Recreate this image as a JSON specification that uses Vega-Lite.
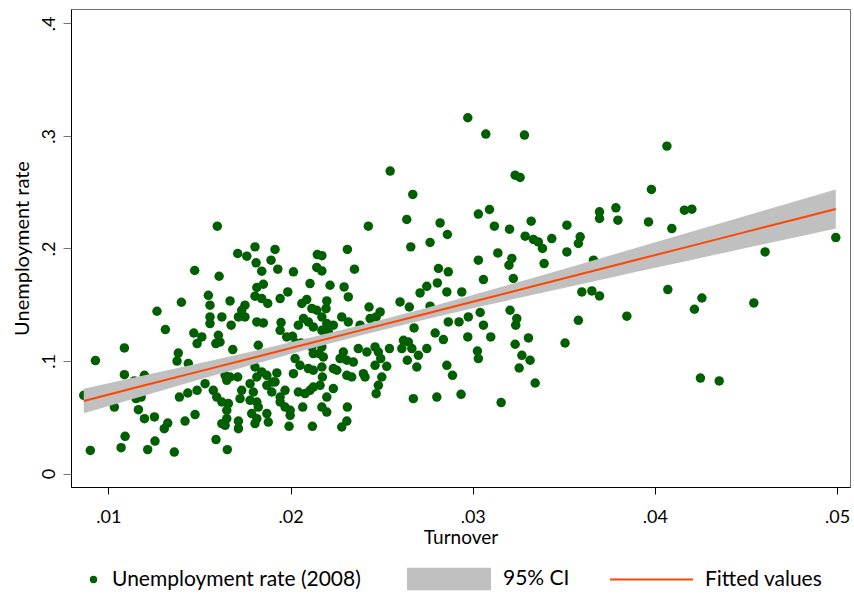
{
  "$schema": "https://vega.github.io/schema/vega-lite/v6.json",
  "width": 779,
  "height": 478,
  "autosize": "none",
  "padding": {"left": 71, "top": 9, "right": 4, "bottom": 110},
  "background": "white",
  "config": {
    "font": "Lato",
    "view": {"stroke": "#707070", "strokeWidth": 1},
    "axis": {"grid": false},
    "legend": {"labelFont": "Lato", "labelFontSize": 21, "labelColor": "#000", "labelLimit": 400, "padding": 0, "title": null}
  },
  "datasets": {
    "pts": [
      {"x":0.00865,"y":0.0695},{"x":0.00901,"y":0.0206},{"x":0.00929,"y":0.1004},{"x":0.01033,"y":0.0591},{"x":0.0107,"y":0.023},{"x":0.01088,"y":0.1116},{"x":0.01088,"y":0.0879},{"x":0.01092,"y":0.0331},{"x":0.01143,"y":0.0823},{"x":0.01152,"y":0.0666},{"x":0.0118,"y":0.068},{"x":0.01165,"y":0.0568},{"x":0.01198,"y":0.0873},{"x":0.01198,"y":0.0488},{"x":0.01216,"y":0.0213},{"x":0.01253,"y":0.0503},{"x":0.01256,"y":0.0289},{"x":0.01267,"y":0.1442},{"x":0.01307,"y":0.0399},{"x":0.01313,"y":0.1279},{"x":0.01326,"y":0.0449},{"x":0.01362,"y":0.0191},{"x":0.01377,"y":0.1},{"x":0.01384,"y":0.1071},{"x":0.0139,"y":0.068},{"x":0.01401,"y":0.1522},{"x":0.01421,"y":0.0467},{"x":0.01436,"y":0.0716},{"x":0.01439,"y":0.0977},{"x":0.01469,"y":0.1249},{"x":0.01474,"y":0.1804},{"x":0.01476,"y":0.0524},{"x":0.01487,"y":0.1155},{"x":0.01487,"y":0.074},
      {"x":0.01598,"y":0.2198},{"x":0.01805,"y":0.2014},{"x":0.0171,"y":0.1955},{"x":0.0176,"y":0.1931},{"x":0.01915,"y":0.1991},{"x":0.01893,"y":0.1896},{"x":0.01811,"y":0.1872},{"x":0.01842,"y":0.1798},{"x":0.0193,"y":0.1816},{"x":0.02016,"y":0.1792},{"x":0.01608,"y":0.1753},{"x":0.02147,"y":0.1946},{"x":0.02172,"y":0.1936},{"x":0.02144,"y":0.1831},{"x":0.02172,"y":0.18},{"x":0.02107,"y":0.1688},{"x":0.01549,"y":0.1584},{"x":0.01558,"y":0.1496},{"x":0.01668,"y":0.1534},{"x":0.01815,"y":0.1653},{"x":0.01851,"y":0.1682},{"x":0.01805,"y":0.1576},{"x":0.01842,"y":0.1555},{"x":0.01875,"y":0.1511},{"x":0.0175,"y":0.1496},{"x":0.01732,"y":0.1451},{"x":0.0175,"y":0.1392},{"x":0.01714,"y":0.1392},{"x":0.01943,"y":0.1555},{"x":0.01985,"y":0.1614},{"x":0.02062,"y":0.1511},{"x":0.02089,"y":0.1546},{"x":0.02117,"y":0.1466},{"x":0.02144,"y":0.1451},{"x":0.01623,"y":0.1392},{"x":0.01674,"y":0.1318},{"x":0.01558,"y":0.1392},{"x":0.01558,"y":0.1333},{"x":0.01815,"y":0.1347},{"x":0.01851,"y":0.1338},{"x":0.01948,"y":0.1342},{"x":0.02071,"y":0.1377},{"x":0.02098,"y":0.1347},{"x":0.02043,"y":0.1318},{"x":0.02125,"y":0.1303},{"x":0.01513,"y":0.1214},{"x":0.01604,"y":0.1229},{"x":0.0159,"y":0.1155},{"x":0.01613,"y":0.1169},{"x":0.01683,"y":0.1102},{"x":0.01823,"y":0.114},{"x":0.01979,"y":0.1214},{"x":0.02011,"y":0.122},{"x":0.0203,"y":0.116},{"x":0.02058,"y":0.116},{"x":0.02089,"y":0.1155},{"x":0.02117,"y":0.1125},{"x":0.02125,"y":0.1066},{"x":0.02157,"y":0.1066},{"x":0.02025,"y":0.1022},{"x":0.02052,"y":0.0962},{"x":0.02016,"y":0.0888},{"x":0.02098,"y":0.0933},{"x":0.02125,"y":0.0918},{"x":0.01805,"y":0.0947},{"x":0.01842,"y":0.0903},{"x":0.01815,"y":0.0858},{"x":0.0187,"y":0.0873},{"x":0.01925,"y":0.0894},{"x":0.01915,"y":0.0814},{"x":0.0187,"y":0.0784},{"x":0.019,"y":0.0814},{"x":0.01897,"y":0.0725},{"x":0.01778,"y":0.0799},{"x":0.01796,"y":0.0725},{"x":0.0171,"y":0.0858},{"x":0.01732,"y":0.074},{"x":0.01723,"y":0.0666},{"x":0.01641,"y":0.0873},{"x":0.0165,"y":0.0829},{"x":0.01668,"y":0.0858},{"x":0.01531,"y":0.0799},{"x":0.01576,"y":0.074},{"x":0.01595,"y":0.068},{"x":0.01623,"y":0.0636},{"x":0.01659,"y":0.0622},{"x":0.0165,"y":0.0562},{"x":0.0197,"y":0.074},{"x":0.01943,"y":0.068},{"x":0.02043,"y":0.0725},{"x":0.0208,"y":0.0711},{"x":0.02107,"y":0.074},{"x":0.02125,"y":0.0769},{"x":0.01778,"y":0.0651},{"x":0.01815,"y":0.0636},{"x":0.01823,"y":0.0591},{"x":0.01943,"y":0.0636},{"x":0.0197,"y":0.0591},{"x":0.01998,"y":0.0562},{"x":0.02067,"y":0.0591},{"x":0.01787,"y":0.0533},{"x":0.01815,"y":0.0488},{"x":0.01805,"y":0.0444},{"x":0.0187,"y":0.0533},{"x":0.01878,"y":0.0458},{"x":0.01714,"y":0.0467},{"x":0.01714,"y":0.0399},{"x":0.0165,"y":0.0488},{"x":0.01641,"y":0.0429},{"x":0.01623,"y":0.0444},{"x":0.01998,"y":0.0518},{"x":0.0212,"y":0.042},{"x":0.01591,"y":0.0302},{"x":0.01653,"y":0.0213},{"x":0.01992,"y":0.042},{"x":0.01998,"y":0.1122},{"x":0.01943,"y":0.1273},
      {"x":0.02547,"y":0.2687},{"x":0.02671,"y":0.248},{"x":0.02638,"y":0.2257},{"x":0.02821,"y":0.2227},{"x":0.02861,"y":0.2124},{"x":0.02427,"y":0.2198},{"x":0.0266,"y":0.2014},{"x":0.02766,"y":0.2053},{"x":0.02312,"y":0.1991},{"x":0.02351,"y":0.1816},{"x":0.02217,"y":0.1673},{"x":0.02294,"y":0.1658},{"x":0.02317,"y":0.1569},{"x":0.02812,"y":0.1822},{"x":0.02806,"y":0.1694},{"x":0.02866,"y":0.1792},{"x":0.02748,"y":0.1664},{"x":0.02711,"y":0.1605},{"x":0.02199,"y":0.1534},{"x":0.02195,"y":0.1466},{"x":0.02431,"y":0.148},{"x":0.02281,"y":0.1392},{"x":0.02317,"y":0.1347},{"x":0.02492,"y":0.1436},{"x":0.0247,"y":0.1392},{"x":0.02437,"y":0.1377},{"x":0.02601,"y":0.1525},{"x":0.02652,"y":0.148},{"x":0.02766,"y":0.1487},{"x":0.02858,"y":0.1614},{"x":0.02678,"y":0.1294},{"x":0.02794,"y":0.1249},{"x":0.02839,"y":0.1191},{"x":0.02866,"y":0.1347},{"x":0.02172,"y":0.1392},{"x":0.02199,"y":0.1333},{"x":0.02235,"y":0.1318},{"x":0.02382,"y":0.1318},{"x":0.02172,"y":0.1273},{"x":0.02208,"y":0.1258},{"x":0.02172,"y":0.1125},{"x":0.0218,"y":0.1036},{"x":0.0229,"y":0.108},{"x":0.02272,"y":0.1022},{"x":0.02309,"y":0.1007},{"x":0.02345,"y":0.0991},{"x":0.02372,"y":0.1111},{"x":0.02419,"y":0.108},{"x":0.02464,"y":0.1125},{"x":0.02482,"y":0.108},{"x":0.02495,"y":0.1022},{"x":0.02543,"y":0.1111},{"x":0.0262,"y":0.1184},{"x":0.02647,"y":0.1169},{"x":0.02611,"y":0.1111},{"x":0.02666,"y":0.1111},{"x":0.02702,"y":0.1051},{"x":0.02748,"y":0.1111},{"x":0.02641,"y":0.1007},{"x":0.02693,"y":0.0947},{"x":0.02464,"y":0.0962},{"x":0.02528,"y":0.0953},{"x":0.02235,"y":0.0933},{"x":0.02254,"y":0.0918},{"x":0.02309,"y":0.0873},{"x":0.02336,"y":0.0858},{"x":0.024,"y":0.0888},{"x":0.02409,"y":0.0858},{"x":0.02501,"y":0.0858},{"x":0.02482,"y":0.0784},{"x":0.0247,"y":0.071},{"x":0.02162,"y":0.0784},{"x":0.02199,"y":0.068},{"x":0.02235,"y":0.0755},{"x":0.02172,"y":0.0591},{"x":0.02199,"y":0.0547},{"x":0.02674,"y":0.0666},{"x":0.02803,"y":0.068},{"x":0.02312,"y":0.0591},{"x":0.02309,"y":0.0467},{"x":0.02281,"y":0.0414},{"x":0.02172,"y":0.0947},{"x":0.02175,"y":0.0858},
      {"x":0.02973,"y":0.3161},{"x":0.03072,"y":0.3016},{"x":0.03284,"y":0.3007},{"x":0.03233,"y":0.2651},{"x":0.0326,"y":0.2631},{"x":0.03031,"y":0.2305},{"x":0.03092,"y":0.2346},{"x":0.03321,"y":0.2242},{"x":0.03119,"y":0.2198},{"x":0.03202,"y":0.2171},{"x":0.03517,"y":0.2207},{"x":0.03288,"y":0.2109},{"x":0.03333,"y":0.208},{"x":0.0336,"y":0.2058},{"x":0.03383,"y":0.2},{"x":0.03434,"y":0.2088},{"x":0.0359,"y":0.2103},{"x":0.0358,"y":0.2044},{"x":0.03517,"y":0.1969},{"x":0.03138,"y":0.196},{"x":0.03215,"y":0.1911},{"x":0.03199,"y":0.1851},{"x":0.03031,"y":0.1896},{"x":0.03392,"y":0.1866},{"x":0.03059,"y":0.1724},{"x":0.03223,"y":0.1733},{"x":0.0294,"y":0.1614},{"x":0.03599,"y":0.1614},{"x":0.03654,"y":0.1623},{"x":0.02925,"y":0.1347},{"x":0.02976,"y":0.1392},{"x":0.03041,"y":0.1431},{"x":0.03205,"y":0.1451},{"x":0.03242,"y":0.1377},{"x":0.03236,"y":0.1318},{"x":0.03059,"y":0.1318},{"x":0.02973,"y":0.1214},{"x":0.03099,"y":0.1214},{"x":0.03306,"y":0.1205},{"x":0.03233,"y":0.1149},{"x":0.0358,"y":0.1362},{"x":0.03507,"y":0.116},{"x":0.03026,"y":0.1089},{"x":0.03031,"y":0.1022},{"x":0.0327,"y":0.1051},{"x":0.03315,"y":0.1007},{"x":0.03255,"y":0.0938},{"x":0.02858,"y":0.0962},{"x":0.02889,"y":0.0873},{"x":0.03343,"y":0.0805},{"x":0.02936,"y":0.0704},{"x":0.03156,"y":0.0631},
      {"x":0.04066,"y":0.2909},{"x":0.03981,"y":0.2524},{"x":0.03696,"y":0.2325},{"x":0.03696,"y":0.2266},{"x":0.03786,"y":0.2361},{"x":0.03797,"y":0.2251},{"x":0.03965,"y":0.2236},{"x":0.04093,"y":0.2177},{"x":0.04162,"y":0.234},{"x":0.04203,"y":0.2349},{"x":0.04993,"y":0.2097},{"x":0.04605,"y":0.1969},{"x":0.03663,"y":0.1896},{"x":0.03696,"y":0.1578},{"x":0.04071,"y":0.1635},{"x":0.04258,"y":0.156},{"x":0.04217,"y":0.146},{"x":0.04543,"y":0.1516},{"x":0.03846,"y":0.1398},{"x":0.0425,"y":0.0849},{"x":0.04353,"y":0.0823}
    ],
    "fit": [
      {"x":0.00865,"fit":0.0645,"lo":0.0536,"hi":0.0754},
      {"x":0.012,"fit":0.0784,"lo":0.0694,"hi":0.0874},
      {"x":0.015,"fit":0.0908,"lo":0.0835,"hi":0.0981},
      {"x":0.018,"fit":0.1031,"lo":0.0972,"hi":0.109},
      {"x":0.021,"fit":0.1155,"lo":0.1106,"hi":0.1204},
      {"x":0.024,"fit":0.1279,"lo":0.1234,"hi":0.1324},
      {"x":0.027,"fit":0.1403,"lo":0.1354,"hi":0.1452},
      {"x":0.03,"fit":0.1527,"lo":0.1468,"hi":0.1586},
      {"x":0.033,"fit":0.1651,"lo":0.1578,"hi":0.1724},
      {"x":0.036,"fit":0.1775,"lo":0.1685,"hi":0.1865},
      {"x":0.039,"fit":0.1899,"lo":0.1792,"hi":0.2006},
      {"x":0.042,"fit":0.2023,"lo":0.1898,"hi":0.2148},
      {"x":0.045,"fit":0.2147,"lo":0.2004,"hi":0.229},
      {"x":0.048,"fit":0.227,"lo":0.2109,"hi":0.2432},
      {"x":0.04993,"fit":0.235,"lo":0.2177,"hi":0.2524}
    ]
  },
  "layer": [
    {
      "data": {"name": "pts"},
      "mark": {"type": "circle", "size": 90, "opacity": 1},
      "encoding": {
        "x": {
          "field": "x", "type": "quantitative",
          "scale": {"domain": [0.00795, 0.05071], "nice": false, "zero": false},
          "axis": {
            "values": [0.01, 0.02, 0.03, 0.04, 0.05],
            "labelExpr": "replace(format(datum.value, '.2f'), '0.', '.')",
            "labelFont": "Lato", "labelFontSize": 18, "labelColor": "#000",
            "labelBaseline": "alphabetic", "labelPadding": 28,
            "tickSize": 7, "tickColor": "#000", "domainColor": "#000",
            "title": "Turnover", "titleFont": "Lato", "titleFontSize": 19,
            "titleFontWeight": "normal", "titleColor": "#000",
            "titleBaseline": "alphabetic", "titleX": 389.5, "titleY": 56
          }
        },
        "y": {
          "field": "y", "type": "quantitative",
          "scale": {"domain": [-0.0119, 0.4127], "nice": false, "zero": false},
          "axis": {
            "values": [0, 0.1, 0.2, 0.3, 0.4],
            "labelExpr": "datum.value == 0 ? '0' : replace(format(datum.value, '.1f'), '0.', '.')",
            "labelAngle": -90, "labelAlign": "center", "labelBaseline": "alphabetic",
            "labelFont": "Lato", "labelFontSize": 18, "labelColor": "#000",
            "labelPadding": 9, "tickSize": 8, "tickColor": "#777", "domainColor": "#000",
            "title": "Unemployment rate", "titleFont": "Lato", "titleFontSize": 20,
            "titleFontWeight": "normal", "titleColor": "#000",
            "titleAngle": -90, "titleBaseline": "alphabetic", "titleX": -43, "titleY": 239
          }
        },
        "color": {
          "datum": "Unemployment rate (2008)",
          "type": "nominal",
          "scale": {"range": ["#005f00"]},
          "legend": {
            "orient": "none",
            "legendX": 12,
            "legendY": 560,
            "symbolType": "circle",
            "symbolSize": 55,
            "symbolStrokeWidth": 0,
            "symbolOpacity": 1,
            "labelOffset": 8
          }
        }
      }
    },
    {
      "data": {"name": "fit"},
      "mark": {"type": "area", "opacity": 1},
      "encoding": {
        "x": {"field": "x", "type": "quantitative"},
        "y": {"field": "lo", "type": "quantitative"},
        "y2": {"field": "hi"},
        "fill": {
          "datum": "95% CI",
          "type": "nominal",
          "scale": {"range": ["#c0c0c0"]},
          "legend": {
            "orient": "none",
            "legendX": 336,
            "legendY": 528,
            "symbolType": "M-1,-0.27H1V0.27H-1Z",
            "symbolSize": 7056,
            "symbolStrokeWidth": 0,
            "symbolOpacity": 1,
            "labelOffset": 12
          }
        }
      }
    },
    {
      "data": {"name": "fit"},
      "mark": {"type": "line", "strokeWidth": 2},
      "encoding": {
        "x": {"field": "x", "type": "quantitative"},
        "y": {"field": "fit", "type": "quantitative"},
        "stroke": {
          "datum": "Fitted values",
          "type": "nominal",
          "scale": {"range": ["#ff4500"]},
          "legend": {
            "orient": "none",
            "legendX": 538,
            "legendY": 528,
            "symbolType": "stroke",
            "symbolSize": 6889,
            "symbolStrokeWidth": 2,
            "symbolOpacity": 1,
            "labelOffset": 11
          }
        }
      }
    }
  ]
}
